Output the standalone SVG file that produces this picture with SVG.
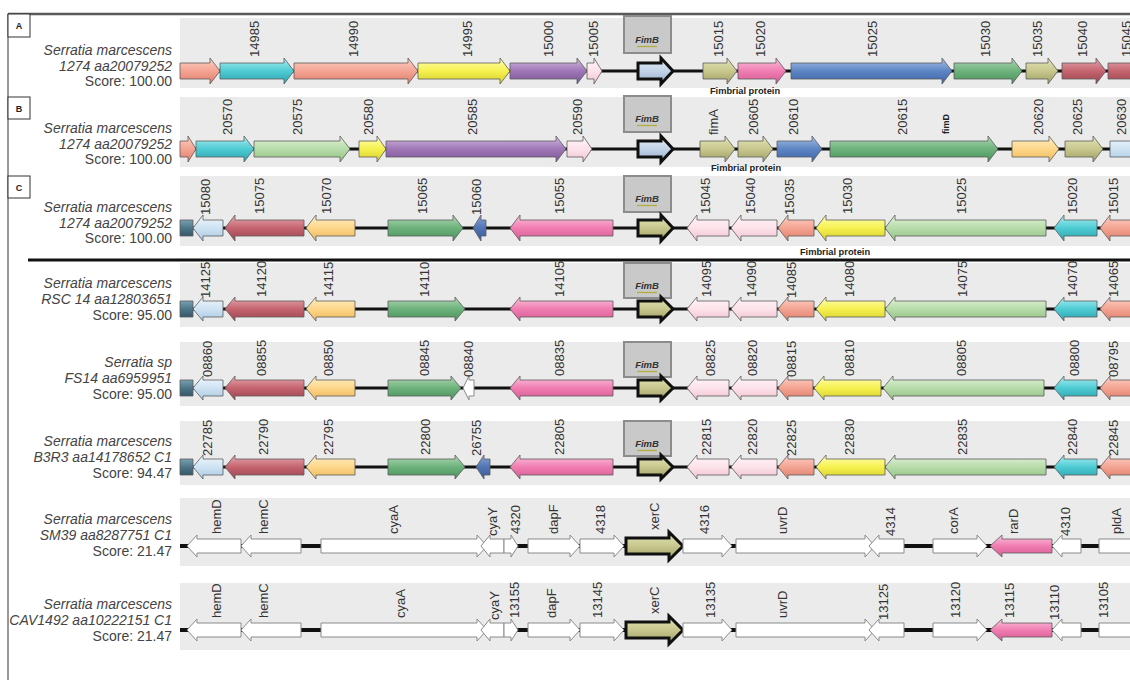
<svg xmlns="http://www.w3.org/2000/svg" width="1130" height="680" viewBox="0 0 1130 680">
<defs>
<linearGradient id="sal" x1="0" y1="0" x2="0" y2="1"><stop offset="0" stop-color="#fcd0c6"/><stop offset=".5" stop-color="#f4a493"/><stop offset="1" stop-color="#e07d6b"/></linearGradient>
<linearGradient id="cya" x1="0" y1="0" x2="0" y2="1"><stop offset="0" stop-color="#a8eef2"/><stop offset=".5" stop-color="#4fcbd3"/><stop offset="1" stop-color="#2aa3ae"/></linearGradient>
<linearGradient id="yel" x1="0" y1="0" x2="0" y2="1"><stop offset="0" stop-color="#ffffb0"/><stop offset=".5" stop-color="#f6f150"/><stop offset="1" stop-color="#d6cf2c"/></linearGradient>
<linearGradient id="pur" x1="0" y1="0" x2="0" y2="1"><stop offset="0" stop-color="#d4b8e0"/><stop offset=".5" stop-color="#9f77b7"/><stop offset="1" stop-color="#7a5494"/></linearGradient>
<linearGradient id="lpk" x1="0" y1="0" x2="0" y2="1"><stop offset="0" stop-color="#fff6f9"/><stop offset=".5" stop-color="#fde2ea"/><stop offset="1" stop-color="#efc3d0"/></linearGradient>
<linearGradient id="olv" x1="0" y1="0" x2="0" y2="1"><stop offset="0" stop-color="#e6e6b8"/><stop offset=".5" stop-color="#c7c78e"/><stop offset="1" stop-color="#a0a064"/></linearGradient>
<linearGradient id="pnk" x1="0" y1="0" x2="0" y2="1"><stop offset="0" stop-color="#fbc2dc"/><stop offset=".5" stop-color="#f07db2"/><stop offset="1" stop-color="#d65b93"/></linearGradient>
<linearGradient id="blu" x1="0" y1="0" x2="0" y2="1"><stop offset="0" stop-color="#a8c0e6"/><stop offset=".5" stop-color="#5d85c4"/><stop offset="1" stop-color="#3d63a3"/></linearGradient>
<linearGradient id="grn" x1="0" y1="0" x2="0" y2="1"><stop offset="0" stop-color="#b0d8b4"/><stop offset=".5" stop-color="#6db27c"/><stop offset="1" stop-color="#4a915a"/></linearGradient>
<linearGradient id="red" x1="0" y1="0" x2="0" y2="1"><stop offset="0" stop-color="#e8a8b0"/><stop offset=".5" stop-color="#c4646f"/><stop offset="1" stop-color="#9e4450"/></linearGradient>
<linearGradient id="lgr" x1="0" y1="0" x2="0" y2="1"><stop offset="0" stop-color="#e2f2da"/><stop offset=".5" stop-color="#b7dcaa"/><stop offset="1" stop-color="#92c084"/></linearGradient>
<linearGradient id="org" x1="0" y1="0" x2="0" y2="1"><stop offset="0" stop-color="#fff0c4"/><stop offset=".5" stop-color="#fdd68a"/><stop offset="1" stop-color="#eeb85a"/></linearGradient>
<linearGradient id="lbl" x1="0" y1="0" x2="0" y2="1"><stop offset="0" stop-color="#f0f7fd"/><stop offset=".5" stop-color="#cfe3f3"/><stop offset="1" stop-color="#a9c7e2"/></linearGradient>
<linearGradient id="slt" x1="0" y1="0" x2="0" y2="1"><stop offset="0" stop-color="#7aa0b0"/><stop offset=".5" stop-color="#4d7687"/><stop offset="1" stop-color="#355868"/></linearGradient>
<linearGradient id="sbl" x1="0" y1="0" x2="0" y2="1"><stop offset="0" stop-color="#88a4d8"/><stop offset=".5" stop-color="#5174b4"/><stop offset="1" stop-color="#375a98"/></linearGradient>
<linearGradient id="fmb" x1="0" y1="0" x2="0" y2="1"><stop offset="0" stop-color="#e4edf7"/><stop offset=".5" stop-color="#c2d3e8"/><stop offset="1" stop-color="#97aecb"/></linearGradient>
</defs>
<style>
.ar{stroke:#5a5a5a;stroke-width:.8}
.sal{fill:url(#sal)}.cya{fill:url(#cya)}.yel{fill:url(#yel)}.pur{fill:url(#pur)}.lpk{fill:url(#lpk)}
.olv{fill:url(#olv)}.pnk{fill:url(#pnk)}.blu{fill:url(#blu)}.grn{fill:url(#grn)}.red{fill:url(#red)}
.lgr{fill:url(#lgr)}.org{fill:url(#org)}.lbl{fill:url(#lbl)}.slt{fill:url(#slt)}.sbl{fill:url(#sbl)}.fmb{fill:url(#fmb)}
.wh{fill:#fff;stroke:#8a8a8a;stroke-width:1}
.fim{stroke:#101010;stroke-width:3;stroke-linejoin:miter}
.band{fill:#ebebeb}
.bb{stroke:#111;stroke-width:3}
.bbw{stroke:#111;stroke-width:4}
.lb{font-family:"Liberation Sans",Arial,sans-serif;font-size:13px;fill:#333}
.sp{font-family:"Liberation Sans",Arial,sans-serif;font-size:14px;fill:#444;text-anchor:end}
.it{font-style:italic}
.fbox{fill:#c9c9c9;stroke:#8c8c8c;stroke-width:2}
.fbt{font-family:"Liberation Sans",Arial,sans-serif;font-size:9.5px;font-weight:bold;font-style:italic;fill:#333;text-anchor:middle}
.fbu{stroke:#b5ad3a;stroke-width:1.3}
.fp{font-family:"Liberation Sans",Arial,sans-serif;font-size:9.3px;font-weight:bold;fill:#222;text-anchor:middle}
.bx{fill:#fff;stroke:#333;stroke-width:1}
.bxt{font-family:"Liberation Sans",Arial,sans-serif;font-size:9px;font-weight:bold;fill:#222;text-anchor:middle}
.fd{font-family:"Liberation Sans",Arial,sans-serif;font-size:9px;font-weight:bold;fill:#222}
</style>
<rect width="1130" height="680" fill="#fff"/>
<!-- frame -->
<line x1="8" y1="14" x2="1130" y2="14" stroke="#5a5a5a" stroke-width="2.5"/>
<line x1="8" y1="14" x2="8" y2="680" stroke="#555" stroke-width="1.2"/>
<g id="panel-boxes">
<rect class="bx" x="8" y="14" width="22" height="23"/><text class="bxt" x="19" y="29">A</text>
<rect class="bx" x="8" y="97" width="22" height="22"/><text class="bxt" x="19" y="111.5">B</text>
<rect class="bx" x="8" y="176" width="22" height="22"/><text class="bxt" x="19" y="190.5">C</text>
</g>
<line x1="28" y1="260" x2="1130" y2="260" stroke="#111" stroke-width="3"/>
<!-- grey bands behind each region -->
<g id="bands">
<rect class="band" x="180" y="18" width="950" height="70"/>
<rect class="band" x="180" y="97" width="950" height="70"/>
<rect class="band" x="180" y="176" width="950" height="70"/>
<rect class="band" x="180" y="263" width="950" height="64"/>
<rect class="band" x="180" y="342" width="950" height="64"/>
<rect class="band" x="180" y="421" width="950" height="64"/>
<rect class="band" x="180" y="498" width="950" height="68"/>
<rect class="band" x="180" y="583" width="950" height="67"/>
</g>
<!-- backbone connectors -->
<g id="connectors">
<line class="bb" x1="180" y1="71" x2="1130" y2="71"/>
<line class="bb" x1="180" y1="149" x2="1130" y2="149"/>
<line class="bb" x1="180" y1="228" x2="1130" y2="228"/>
<line class="bb" x1="180" y1="309" x2="1130" y2="309"/>
<line class="bb" x1="180" y1="388" x2="1130" y2="388"/>
<line class="bb" x1="180" y1="467" x2="1130" y2="467"/>
<line class="bbw" x1="180" y1="546" x2="1130" y2="546"/>
<line class="bbw" x1="180" y1="630" x2="1130" y2="630"/>
</g>

<!-- Row A -->
<g id="rowA" transform="translate(0,71)">
<text class="sp it" x="172" y="-16">Serratia marcescens</text>
<text class="sp it" x="172" y="-0.5">1274 aa20079252</text>
<text class="sp" x="172" y="15">Score: 100.00</text>
<g id="A-start"><path class="ar sal" d="M180,-8H210V-13L220,0L210,13V8H180Z"/></g>
<g id="A-14985"><path class="ar cya" d="M220,-8H284V-13L294,0L284,13V8H220Z"/><text class="lb" transform="translate(259,-14) rotate(-90)">14985</text></g>
<g id="A-14990"><path class="ar sal" d="M294,-8H408V-13L418,0L408,13V8H294Z"/><text class="lb" transform="translate(358,-14) rotate(-90)">14990</text></g>
<g id="A-14995"><path class="ar yel" d="M418,-8H500V-13L510,0L500,13V8H418Z"/><text class="lb" transform="translate(472,-14) rotate(-90)">14995</text></g>
<g id="A-15000"><path class="ar pur" d="M510,-8H577V-13L587,0L577,13V8H510Z"/><text class="lb" transform="translate(553,-14) rotate(-90)">15000</text></g>
<g id="A-15005"><path class="ar lpk" d="M587,-8H594V-13L602,0L594,13V8H587Z"/><text class="lb" transform="translate(598,-14) rotate(-90)">15005</text></g>
<g id="A-FimB"><rect class="fbox" x="624" y="-55" width="47" height="37"/><text class="fbt" x="647" y="-28">FimB</text><line class="fbu" x1="637" y1="-24.5" x2="657" y2="-24.5"/><path class="fim fmb" d="M638,-8H661V-13L673,0L661,13V8H638Z"/></g>
<g id="A-15015"><path class="ar olv" d="M703,-8H727V-13L737,0L727,13V8H703Z"/><text class="lb" transform="translate(723,-14) rotate(-90)">15015</text></g>
<g id="A-15020"><path class="ar pnk" d="M738,-8H776V-13L786,0L776,13V8H738Z"/><text class="lb" transform="translate(765,-14) rotate(-90)">15020</text></g>
<g id="A-15025"><path class="ar blu" d="M791,-8H942V-13L952,0L942,13V8H791Z"/><text class="lb" transform="translate(877,-14) rotate(-90)">15025</text></g>
<g id="A-15030"><path class="ar grn" d="M954,-8H1012V-13L1022,0L1012,13V8H954Z"/><text class="lb" transform="translate(990,-14) rotate(-90)">15030</text></g>
<g id="A-15035"><path class="ar olv" d="M1026,-8H1048V-13L1058,0L1048,13V8H1026Z"/><text class="lb" transform="translate(1042,-14) rotate(-90)">15035</text></g>
<g id="A-15040"><path class="ar red" d="M1062,-8H1096V-13L1106,0L1096,13V8H1062Z"/><text class="lb" transform="translate(1087,-14) rotate(-90)">15040</text></g>
<g id="A-15045"><path class="ar red" d="M1108,-8H1140V-13L1150,0L1140,13V8H1108Z"/><text class="lb" transform="translate(1131,-14) rotate(-90)">15045</text></g>
<text class="fp" x="745" y="23">Fimbrial protein</text>
</g>

<!-- Row B -->
<g id="rowB" transform="translate(0,149)">
<text class="sp it" x="172" y="-16">Serratia marcescens</text>
<text class="sp it" x="172" y="-0.5">1274 aa20079252</text>
<text class="sp" x="172" y="15">Score: 100.00</text>
<g id="B-start"><path class="ar sal" d="M180,-8H188V-13L196,0L188,13V8H180Z"/></g>
<g id="B-20570"><path class="ar cya" d="M196,-8H244V-13L254,0L244,13V8H196Z"/><text class="lb" transform="translate(232,-14) rotate(-90)">20570</text></g>
<g id="B-20575"><path class="ar lgr" d="M254,-8H340V-13L350,0L340,13V8H254Z"/><text class="lb" transform="translate(302,-14) rotate(-90)">20575</text></g>
<g id="B-20580"><path class="ar yel" d="M359,-8H377V-13L386,0L377,13V8H359Z"/><text class="lb" transform="translate(373,-14) rotate(-90)">20580</text></g>
<g id="B-20585"><path class="ar pur" d="M386,-8H556V-13L566,0L556,13V8H386Z"/><text class="lb" transform="translate(477,-14) rotate(-90)">20585</text></g>
<g id="B-20590"><path class="ar lpk" d="M567,-8H583V-13L592,0L583,13V8H567Z"/><text class="lb" transform="translate(582,-14) rotate(-90)">20590</text></g>
<g id="B-FimB"><rect class="fbox" x="624" y="-53" width="47" height="36"/><text class="fbt" x="647" y="-27">FimB</text><line class="fbu" x1="637" y1="-23.5" x2="657" y2="-23.5"/><path class="fim fmb" d="M638,-8H661V-13L673,0L661,13V8H638Z"/></g>
<g id="B-fimA"><path class="ar olv" d="M700,-8H725V-13L735,0L725,13V8H700Z"/><text class="lb" transform="translate(718,-14) rotate(-90)">fimA</text></g>
<g id="B-20605"><path class="ar olv" d="M738,-8H763V-13L773,0L763,13V8H738Z"/><text class="lb" transform="translate(758,-14) rotate(-90)">20605</text></g>
<g id="B-20610"><path class="ar blu" d="M777,-8H812V-13L822,0L812,13V8H777Z"/><text class="lb" transform="translate(798,-14) rotate(-90)">20610</text></g>
<g id="B-20615"><path class="ar grn" d="M830,-8H988V-13L998,0L988,13V8H830Z"/><text class="lb" transform="translate(907,-14) rotate(-90)">20615</text><text class="fd" transform="translate(949,-15) rotate(-90)">fimD</text></g>
<g id="B-20620"><path class="ar org" d="M1012,-8H1049V-13L1059,0L1049,13V8H1012Z"/><text class="lb" transform="translate(1043,-14) rotate(-90)">20620</text></g>
<g id="B-20625"><path class="ar olv" d="M1065,-8H1093V-13L1103,0L1093,13V8H1065Z"/><text class="lb" transform="translate(1082,-14) rotate(-90)">20625</text></g>
<g id="B-20630"><path class="ar lbl" d="M1110,-8H1140V-13L1150,0L1140,13V8H1110Z"/><text class="lb" transform="translate(1126,-14) rotate(-90)">20630</text></g>
<text class="fp" x="746" y="22">Fimbrial protein</text>
</g>

<!-- Row C -->
<g id="rowC" transform="translate(0,228)">
<text class="sp it" x="172" y="-16">Serratia marcescens</text>
<text class="sp it" x="172" y="-0.5">1274 aa20079252</text>
<text class="sp" x="172" y="15">Score: 100.00</text>
<g id="C-start"><path class="ar slt" d="M180,-8H193V8H180Z"/></g>
<g id="C-15080"><path class="ar lbl" d="M223,-8H203V-13L193,0L203,13V8H223Z"/><text class="lb" transform="translate(210,-13) rotate(-90)">15080</text></g>
<g id="C-15075"><path class="ar red" d="M304,-8H235V-13L225,0L235,13V8H304Z"/><text class="lb" transform="translate(264,-14) rotate(-90)">15075</text></g>
<g id="C-15070"><path class="ar org" d="M355,-8H316V-13L306,0L316,13V8H355Z"/><text class="lb" transform="translate(331,-14) rotate(-90)">15070</text></g>
<g id="C-15065"><path class="ar grn" d="M388,-8H453V-13L463,0L453,13V8H388Z"/><text class="lb" transform="translate(427,-14) rotate(-90)">15065</text></g>
<g id="C-15060"><path class="ar sbl" d="M486,-8H481V-13L473,0L481,13V8H486Z"/><text class="lb" transform="translate(481,-13) rotate(-90)">15060</text></g>
<g id="C-15055"><path class="ar pnk" d="M613,-8H520V-13L510,0L520,13V8H613Z"/><text class="lb" transform="translate(564,-14) rotate(-90)">15055</text></g>
<g id="C-FimB"><rect class="fbox" x="624" y="-52" width="47" height="36"/><text class="fbt" x="647" y="-26">FimB</text><line class="fbu" x1="637" y1="-22.5" x2="657" y2="-22.5"/><path class="fim olv" d="M638,-8H661V-13L673,0L661,13V8H638Z"/></g>
<g id="C-15045"><path class="ar lpk" d="M729,-8H697V-13L687,0L697,13V8H729Z"/><text class="lb" transform="translate(710,-14) rotate(-90)">15045</text></g>
<g id="C-15040"><path class="ar lpk" d="M777,-8H741V-13L731,0L741,13V8H777Z"/><text class="lb" transform="translate(755,-14) rotate(-90)">15040</text></g>
<g id="C-15035"><path class="ar sal" d="M814,-8H788V-13L778,0L788,13V8H814Z"/><text class="lb" transform="translate(794,-13) rotate(-90)">15035</text></g>
<g id="C-15030"><path class="ar yel" d="M885,-8H826V-13L816,0L826,13V8H885Z"/><text class="lb" transform="translate(852,-14) rotate(-90)">15030</text></g>
<g id="C-15025"><path class="ar lgr" d="M1046,-8H895V-13L885,0L895,13V8H1046Z"/><text class="lb" transform="translate(966,-14) rotate(-90)">15025</text></g>
<g id="C-15020"><path class="ar cya" d="M1097,-8H1064V-13L1054,0L1064,13V8H1097Z"/><text class="lb" transform="translate(1077,-14) rotate(-90)">15020</text></g>
<g id="C-15015"><path class="ar sal" d="M1140,-8H1110V-13L1100,0L1110,13V8H1140Z"/><text class="lb" transform="translate(1118,-14) rotate(-90)">15015</text></g>
<text class="fp" x="835" y="27">Fimbrial protein</text>
</g>

<!-- Row D -->
<g id="rowD" transform="translate(0,309)">
<text class="sp it" x="172" y="-21">Serratia marcescens</text>
<text class="sp it" x="172" y="-5">RSC 14 aa12803651</text>
<text class="sp" x="172" y="11">Score: 95.00</text>
<g id="D-start"><path class="ar slt" d="M180,-8H193V8H180Z"/></g>
<g id="D-14125"><path class="ar lbl" d="M223,-8H203V-12L193,0L203,12V8H223Z"/><text class="lb" transform="translate(210,-11) rotate(-90)">14125</text></g>
<g id="D-14120"><path class="ar red" d="M304,-8H235V-12L225,0L235,12V8H304Z"/><text class="lb" transform="translate(266,-12) rotate(-90)">14120</text></g>
<g id="D-14115"><path class="ar org" d="M355,-8H316V-12L306,0L316,12V8H355Z"/><text class="lb" transform="translate(333,-12) rotate(-90)">14115</text></g>
<g id="D-14110"><path class="ar grn" d="M388,-8H455V-12L465,0L455,12V8H388Z"/><text class="lb" transform="translate(429,-12) rotate(-90)">14110</text></g>
<g id="D-14105"><path class="ar pnk" d="M613,-8H520V-12L510,0L520,12V8H613Z"/><text class="lb" transform="translate(564,-12) rotate(-90)">14105</text></g>
<g id="D-FimB"><rect class="fbox" x="624" y="-46" width="47" height="35"/><text class="fbt" x="647" y="-20">FimB</text><line class="fbu" x1="637" y1="-16.5" x2="657" y2="-16.5"/><path class="fim olv" d="M638,-8H661V-12L673,0L661,12V8H638Z"/></g>
<g id="D-14095"><path class="ar lpk" d="M729,-8H697V-12L687,0L697,12V8H729Z"/><text class="lb" transform="translate(711,-12) rotate(-90)">14095</text></g>
<g id="D-14090"><path class="ar lpk" d="M777,-8H741V-12L731,0L741,12V8H777Z"/><text class="lb" transform="translate(756,-12) rotate(-90)">14090</text></g>
<g id="D-14085"><path class="ar sal" d="M814,-8H788V-12L778,0L788,12V8H814Z"/><text class="lb" transform="translate(796,-11) rotate(-90)">14085</text></g>
<g id="D-14080"><path class="ar yel" d="M885,-8H826V-12L816,0L826,12V8H885Z"/><text class="lb" transform="translate(854,-12) rotate(-90)">14080</text></g>
<g id="D-14075"><path class="ar lgr" d="M1046,-8H895V-12L885,0L895,12V8H1046Z"/><text class="lb" transform="translate(967,-12) rotate(-90)">14075</text></g>
<g id="D-14070"><path class="ar cya" d="M1097,-8H1064V-12L1054,0L1064,12V8H1097Z"/><text class="lb" transform="translate(1077,-12) rotate(-90)">14070</text></g>
<g id="D-14065"><path class="ar sal" d="M1140,-8H1110V-12L1100,0L1110,12V8H1140Z"/><text class="lb" transform="translate(1118,-12) rotate(-90)">14065</text></g>
</g>

<!-- Row E -->
<g id="rowE" transform="translate(0,388)">
<text class="sp it" x="172" y="-21">Serratia sp</text>
<text class="sp it" x="172" y="-5">FS14 aa6959951</text>
<text class="sp" x="172" y="11">Score: 95.00</text>
<g id="E-start"><path class="ar slt" d="M180,-8H193V8H180Z"/></g>
<g id="E-08860"><path class="ar lbl" d="M223,-8H203V-12L193,0L203,12V8H223Z"/><text class="lb" transform="translate(212,-11) rotate(-90)">08860</text></g>
<g id="E-08855"><path class="ar red" d="M304,-8H235V-12L225,0L235,12V8H304Z"/><text class="lb" transform="translate(266,-12) rotate(-90)">08855</text></g>
<g id="E-08850"><path class="ar org" d="M355,-8H316V-12L306,0L316,12V8H355Z"/><text class="lb" transform="translate(333,-12) rotate(-90)">08850</text></g>
<g id="E-08845"><path class="ar grn" d="M388,-8H451V-12L461,0L451,12V8H388Z"/><text class="lb" transform="translate(429,-12) rotate(-90)">08845</text></g>
<g id="E-08840"><path class="wh" d="M474,-8H469V-12L463,0L469,12V8H474Z"/><text class="lb" transform="translate(473,-11) rotate(-90)">08840</text></g>
<g id="E-08835"><path class="ar pnk" d="M613,-8H520V-12L510,0L520,12V8H613Z"/><text class="lb" transform="translate(564,-12) rotate(-90)">08835</text></g>
<g id="E-FimB"><rect class="fbox" x="624" y="-46" width="47" height="35"/><text class="fbt" x="647" y="-20">FimB</text><line class="fbu" x1="637" y1="-16.5" x2="657" y2="-16.5"/><path class="fim olv" d="M638,-8H661V-12L673,0L661,12V8H638Z"/></g>
<g id="E-08825"><path class="ar lpk" d="M729,-8H697V-12L687,0L697,12V8H729Z"/><text class="lb" transform="translate(715,-12) rotate(-90)">08825</text></g>
<g id="E-08820"><path class="ar lpk" d="M777,-8H741V-12L731,0L741,12V8H777Z"/><text class="lb" transform="translate(757,-12) rotate(-90)">08820</text></g>
<g id="E-08815"><path class="ar sal" d="M813,-8H788V-12L778,0L788,12V8H813Z"/><text class="lb" transform="translate(796,-11) rotate(-90)">08815</text></g>
<g id="E-08810"><path class="ar yel" d="M881,-8H824V-12L814,0L824,12V8H881Z"/><text class="lb" transform="translate(854,-12) rotate(-90)">08810</text></g>
<g id="E-08805"><path class="ar lgr" d="M1044,-8H893V-12L883,0L893,12V8H1044Z"/><text class="lb" transform="translate(966,-12) rotate(-90)">08805</text></g>
<g id="E-08800"><path class="ar cya" d="M1097,-8H1064V-12L1054,0L1064,12V8H1097Z"/><text class="lb" transform="translate(1079,-12) rotate(-90)">08800</text></g>
<g id="E-08795"><path class="ar sal" d="M1140,-8H1110V-12L1100,0L1110,12V8H1140Z"/><text class="lb" transform="translate(1118,-11) rotate(-90)">08795</text></g>
</g>

<!-- Row F -->
<g id="rowF" transform="translate(0,467)">
<text class="sp it" x="172" y="-21">Serratia marcescens</text>
<text class="sp it" x="172" y="-5">B3R3 aa14178652 C1</text>
<text class="sp" x="172" y="11">Score: 94.47</text>
<g id="F-start"><path class="ar slt" d="M180,-8H193V8H180Z"/></g>
<g id="F-22785"><path class="ar lbl" d="M223,-8H203V-12L193,0L203,12V8H223Z"/><text class="lb" transform="translate(212,-11) rotate(-90)">22785</text></g>
<g id="F-22790"><path class="ar red" d="M304,-8H235V-12L225,0L235,12V8H304Z"/><text class="lb" transform="translate(268,-12) rotate(-90)">22790</text></g>
<g id="F-22795"><path class="ar org" d="M355,-8H316V-12L306,0L316,12V8H355Z"/><text class="lb" transform="translate(333,-12) rotate(-90)">22795</text></g>
<g id="F-22800"><path class="ar grn" d="M388,-8H455V-12L465,0L455,12V8H388Z"/><text class="lb" transform="translate(430,-12) rotate(-90)">22800</text></g>
<g id="F-26755"><path class="ar sbl" d="M490,-8H484V-12L476,0L484,12V8H490Z"/><text class="lb" transform="translate(481,-11) rotate(-90)">26755</text></g>
<g id="F-22805"><path class="ar pnk" d="M613,-8H520V-12L510,0L520,12V8H613Z"/><text class="lb" transform="translate(564,-12) rotate(-90)">22805</text></g>
<g id="F-FimB"><rect class="fbox" x="624" y="-46" width="47" height="35"/><text class="fbt" x="647" y="-20">FimB</text><line class="fbu" x1="637" y1="-16.5" x2="657" y2="-16.5"/><path class="fim olv" d="M638,-8H661V-12L673,0L661,12V8H638Z"/></g>
<g id="F-22815"><path class="ar lpk" d="M729,-8H697V-12L687,0L697,12V8H729Z"/><text class="lb" transform="translate(711,-12) rotate(-90)">22815</text></g>
<g id="F-22820"><path class="ar lpk" d="M777,-8H741V-12L731,0L741,12V8H777Z"/><text class="lb" transform="translate(757,-12) rotate(-90)">22820</text></g>
<g id="F-22825"><path class="ar sal" d="M814,-8H788V-12L778,0L788,12V8H814Z"/><text class="lb" transform="translate(796,-11) rotate(-90)">22825</text></g>
<g id="F-22830"><path class="ar yel" d="M885,-8H826V-12L816,0L826,12V8H885Z"/><text class="lb" transform="translate(854,-12) rotate(-90)">22830</text></g>
<g id="F-22835"><path class="ar lgr" d="M1046,-8H895V-12L885,0L895,12V8H1046Z"/><text class="lb" transform="translate(967,-12) rotate(-90)">22835</text></g>
<g id="F-22840"><path class="ar cya" d="M1097,-8H1064V-12L1054,0L1064,12V8H1097Z"/><text class="lb" transform="translate(1077,-12) rotate(-90)">22840</text></g>
<g id="F-22845"><path class="ar sal" d="M1140,-8H1110V-12L1100,0L1110,12V8H1140Z"/><text class="lb" transform="translate(1118,-11) rotate(-90)">22845</text></g>
</g>

<!-- Row G -->
<g id="rowG" transform="translate(0,546)">
<text class="sp it" x="172" y="-22.5">Serratia marcescens</text>
<text class="sp it" x="172" y="-6.5">SM39 aa8287751 C1</text>
<text class="sp" x="172" y="9.5">Score: 21.47</text>
<g id="G-hemD"><path class="wh" d="M241,-7H197V-11L187,0L197,11V7H241Z"/><text class="lb" transform="translate(221,-12) rotate(-90)">hemD</text></g>
<g id="G-hemC"><path class="wh" d="M301,-7H251V-11L241,0L251,11V7H301Z"/><text class="lb" transform="translate(268,-12) rotate(-90)">hemC</text></g>
<g id="G-cyaA"><path class="wh" d="M321,-7H477V-11L487,0L477,11V7H321Z"/><text class="lb" transform="translate(398,-12) rotate(-90)">cyaA</text></g>
<g id="G-cyaY"><path class="wh" d="M504,-7H490V-11L481,0L490,11V7H504Z"/><text class="lb" transform="translate(497,-10) rotate(-90)">cyaY</text></g>
<g id="G-4320"><path class="wh" d="M504,-7H511V-11L518,0L511,11V7H504Z"/><text class="lb" transform="translate(520,-12) rotate(-90)">4320</text></g>
<g id="G-dapF"><path class="wh" d="M528,-7H570V-11L580,0L570,11V7H528Z"/><text class="lb" transform="translate(558,-12) rotate(-90)">dapF</text></g>
<g id="G-4318"><path class="wh" d="M580,-7H614V-11L624,0L614,11V7H580Z"/><text class="lb" transform="translate(605,-12) rotate(-90)">4318</text></g>
<g id="G-xerC"><path class="fim olv" d="M626,-8H669V-14L683,0L669,14V8H626Z"/><text class="lb" transform="translate(659,-16) rotate(-90)">xerC</text></g>
<g id="G-4316"><path class="wh" d="M683,-7H722V-11L732,0L722,11V7H683Z"/><text class="lb" transform="translate(709,-12) rotate(-90)">4316</text></g>
<g id="G-uvrD"><path class="wh" d="M736,-7H865V-11L875,0L865,11V7H736Z"/><text class="lb" transform="translate(787,-12) rotate(-90)">uvrD</text></g>
<g id="G-4314"><path class="wh" d="M904,-7H879V-11L869,0L879,11V7H904Z"/><text class="lb" transform="translate(895,-10) rotate(-90)">4314</text></g>
<g id="G-corA"><path class="wh" d="M933,-7H977V-11L987,0L977,11V7H933Z"/><text class="lb" transform="translate(958,-12) rotate(-90)">corA</text></g>
<g id="G-rarD"><path class="ar pnk" d="M1052,-7H1002V-11L990,0L1002,11V7H1052Z"/><text class="lb" transform="translate(1018,-12) rotate(-90)">rarD</text></g>
<g id="G-4310"><path class="wh" d="M1081,-7H1062V-11L1052,0L1062,11V7H1081Z"/><text class="lb" transform="translate(1070,-10) rotate(-90)">4310</text></g>
<g id="G-pldA"><path class="wh" d="M1099,-7H1140V-11L1150,0L1140,11V7H1099Z"/><text class="lb" transform="translate(1121,-12) rotate(-90)">pldA</text></g>
</g>

<!-- Row H -->
<g id="rowH" transform="translate(0,630)">
<text class="sp it" x="172" y="-21.5">Serratia marcescens</text>
<text class="sp it" x="172" y="-5.5">CAV1492 aa10222151 C1</text>
<text class="sp" x="172" y="10.5">Score: 21.47</text>
<g id="H-hemD"><path class="wh" d="M241,-7H197V-11L187,0L197,11V7H241Z"/><text class="lb" transform="translate(221,-12) rotate(-90)">hemD</text></g>
<g id="H-hemC"><path class="wh" d="M301,-7H251V-11L241,0L251,11V7H301Z"/><text class="lb" transform="translate(268,-12) rotate(-90)">hemC</text></g>
<g id="H-cyaA"><path class="wh" d="M321,-7H477V-11L487,0L477,11V7H321Z"/><text class="lb" transform="translate(405,-12) rotate(-90)">cyaA</text></g>
<g id="H-cyaY"><path class="wh" d="M504,-7H490V-11L481,0L490,11V7H504Z"/><text class="lb" transform="translate(499,-10) rotate(-90)">cyaY</text></g>
<g id="H-13155"><path class="wh" d="M504,-7H511V-11L518,0L511,11V7H504Z"/><text class="lb" transform="translate(519,-12) rotate(-90)">13155</text></g>
<g id="H-dapF"><path class="wh" d="M528,-7H570V-11L580,0L570,11V7H528Z"/><text class="lb" transform="translate(556,-12) rotate(-90)">dapF</text></g>
<g id="H-13145"><path class="wh" d="M580,-7H614V-11L624,0L614,11V7H580Z"/><text class="lb" transform="translate(602,-12) rotate(-90)">13145</text></g>
<g id="H-xerC"><path class="fim olv" d="M626,-8H669V-14L683,0L669,14V8H626Z"/><text class="lb" transform="translate(659,-16) rotate(-90)">xerC</text></g>
<g id="H-13135"><path class="wh" d="M683,-7H722V-11L732,0L722,11V7H683Z"/><text class="lb" transform="translate(715,-12) rotate(-90)">13135</text></g>
<g id="H-uvrD"><path class="wh" d="M736,-7H865V-11L875,0L865,11V7H736Z"/><text class="lb" transform="translate(787,-12) rotate(-90)">uvrD</text></g>
<g id="H-13125"><path class="wh" d="M904,-7H879V-11L869,0L879,11V7H904Z"/><text class="lb" transform="translate(888,-10) rotate(-90)">13125</text></g>
<g id="H-13120"><path class="wh" d="M933,-7H977V-11L987,0L977,11V7H933Z"/><text class="lb" transform="translate(960,-12) rotate(-90)">13120</text></g>
<g id="H-13115"><path class="ar pnk" d="M1052,-7H1002V-11L990,0L1002,11V7H1052Z"/><text class="lb" transform="translate(1014,-12) rotate(-90)">13115</text></g>
<g id="H-13110"><path class="wh" d="M1081,-7H1062V-11L1052,0L1062,11V7H1081Z"/><text class="lb" transform="translate(1059,-10) rotate(-90)">13110</text></g>
<g id="H-13105"><path class="wh" d="M1099,-7H1140V-11L1150,0L1140,11V7H1099Z"/><text class="lb" transform="translate(1108,-12) rotate(-90)">13105</text></g>
</g>
</svg>
